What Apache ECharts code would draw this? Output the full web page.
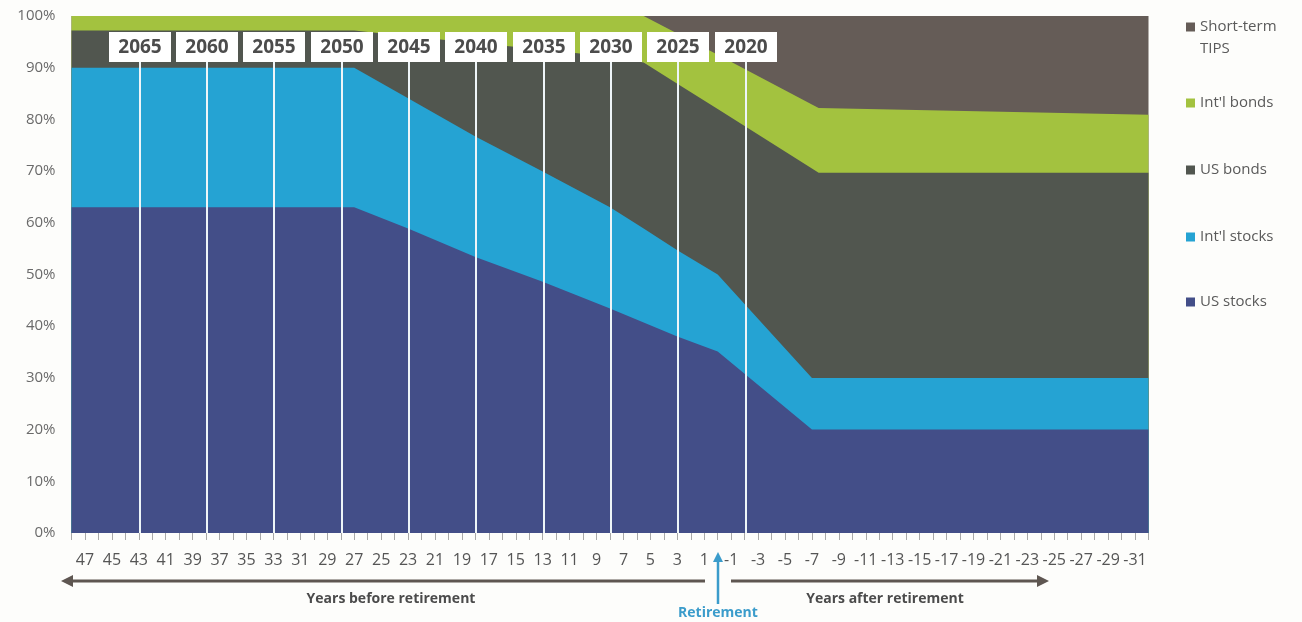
<!DOCTYPE html>
<html>
<head>
<meta charset="utf-8">
<script src="https://cdn.jsdelivr.net/npm/echarts@6/dist/echarts.min.js"></script>
<style>
  html, body { margin: 0; padding: 0; background: #fdfdfb; }
  #chart { width: 1302px; height: 622px; }
</style>
</head>
<body>
<div id="chart"></div>
<script>
// Years before retirement (negative = years after retirement)
const years        = [48,   27,   23,   18,   13,   8,    5.5,  3,    0,    -7,   -7.5, -32];
// Allocation (% of portfolio) by asset class
const usStocks     = [63.0, 63.0, 58.9, 53.4, 48.6, 43.4, 40.7, 38.0, 35.1, 20.0, 20.0, 20.0];
const intlStocks   = [27.0, 27.0, 25.2, 23.3, 21.3, 19.6, 18.2, 16.7, 14.9, 10.0, 10.0, 10.0];
const usBonds      = [7.2,  7.2,  12.0, 18.1, 23.6, 29.1, 32.1, 32.2, 32.0, 40.5, 39.7, 39.7];
const intlBonds    = [2.8,  2.8,  3.9,  5.2,  6.5,  7.9,  9.0,  9.7,  10.5, 12.4, 12.5, 11.2];
const tips         = [0,    0,    0,    0,    0,    0,    0,    3.4,  7.5,  17.1, 17.8, 19.1];

// Target-date fund labels and the years-before-retirement they mark
const fundLabels   = ['2065', '2060', '2055', '2050', '2045', '2040', '2035', '2030', '2025', '2020'];
const fundYears    = [43, 38, 33, 28, 23, 18, 13, 8, 3, -2];

// Y-axis ticks
const yMin = 0, yMax = 100, yStep = 10;

// bottom-to-top order
const seriesDefs = [
  { name: 'US stocks',       data: usStocks,   color: '#434e88' },
  { name: "Int'l stocks",    data: intlStocks, color: '#25a3d3' },
  { name: 'US bonds',        data: usBonds,    color: '#51564f' },
  { name: "Int'l bonds",     data: intlBonds,  color: '#a3c23f' },
  { name: 'Short-term TIPS', data: tips,       color: '#655c57' }
];

const FONT = '"Open Sans", "Noto Sans", sans-serif';

const chart = echarts.init(document.getElementById('chart'), null, { renderer: 'canvas' });

// cumulative tops of each band (layered areas: each fills from 0 to its cumulative top)
const running = years.map(function () { return 0; });
const areaSeries = seriesDefs.map(function (d, k) {
  const tops = d.data.map(function (v, i) { running[i] += v; return Math.min(yMax, running[i]); });
  return {
    name: d.name,
    type: 'line',
    symbol: 'none',
    color: d.color,
    lineStyle: { width: 0 },
    areaStyle: { color: d.color, opacity: 1, origin: 'start' },
    data: years.map(function (y, i) { return [y, tops[i]]; }),
    z: 2,
    silent: true
  };
}).reverse(); // draw the tallest (top band) first so lower bands paint over it

const labelSeries = {
  type: 'custom',
  coordinateSystem: 'cartesian2d',
  clip: false,
  z: 10,
  silent: true,
  data: fundYears.map(function (y) { return [y, 0]; }),
  renderItem: function (params, api) {
    const yr = api.value(0);
    const base = api.coord([yr, yMin]);
    const top = api.coord([yr, yMax]);
    const x = Math.round(base[0]) + 1;
    return {
      type: 'group',
      children: [
        { type: 'line', shape: { x1: x, y1: top[1] + 46, x2: x, y2: base[1] },
          style: { stroke: '#eef5f8', lineWidth: 2 } },
        { type: 'rect', shape: { x: x - 31, y: top[1] + 16, width: 62, height: 30 },
          style: { fill: '#ffffff' } },
        { type: 'text', style: {
            text: fundLabels[params.dataIndex], x: x, y: top[1] + 31.5,
            align: 'center', verticalAlign: 'middle',
            font: '700 19px ' + FONT, fill: '#4c4c4c' } }
      ]
    };
  }
};

function legendFor(name, top, multi) {
  return {
    data: [name],
    orient: 'vertical',
    left: 1186,
    top: top,
    padding: 0,
    icon: 'rect',
    itemWidth: 9,
    itemHeight: 9,
    selectedMode: false,
    textStyle: { fontFamily: FONT, fontSize: 15, color: '#5a5a5a', lineHeight: multi ? 22 : 18 },
    // multi-line item: an empty leading line keeps the first text line level with the square
    formatter: multi ? function (n) { return '\n' + n.replace(' ', '\n'); } : '{name}'
  };
}

const option = {
  backgroundColor: '#fdfdfb',
  animation: false,
  grid: { left: 71.5, right: 153.5, top: 16, bottom: 89 },
  xAxis: {
    type: 'value',
    inverse: true,
    min: -32,
    max: 48,
    interval: 1,
    offset: 5,
    axisLine: { show: false },
    axisTick: { show: true, length: 7, lineStyle: { color: '#a8a8a8', width: 1 } },
    splitLine: { show: false },
    axisLabel: {
      margin: 14,
      fontFamily: FONT,
      fontSize: 16,
      color: '#555555',
      formatter: function (v) { return Math.abs(v) % 2 === 1 ? String(v) : ''; }
    }
  },
  yAxis: {
    type: 'value',
    min: yMin,
    max: yMax,
    interval: yStep,
    axisLine: { show: false },
    axisTick: { show: false },
    splitLine: { show: false },
    axisLabel: {
      margin: 16,
      fontFamily: FONT,
      fontSize: 15,
      color: '#6a6a6a',
      formatter: '{value}%'
    }
  },
  legend: [
    legendFor('Short-term TIPS', -6, true),
    legendFor("Int'l bonds", 94, false),
    legendFor('US bonds', 161, false),
    legendFor("Int'l stocks", 228, false),
    legendFor('US stocks', 293, false)
  ],
  series: areaSeries.concat([labelSeries])
};

chart.setOption(option);

// Bottom annotations, anchored to the retirement point on the x axis
const x0 = Math.round(chart.convertToPixel({ xAxisIndex: 0 }, 0));
const arrowColor = '#5e5651';
const blue = '#3b9ccb';
chart.setOption({
  graphic: [
    { type: 'line', shape: { x1: 70, y1: 581, x2: x0 - 13, y2: 581 }, style: { stroke: arrowColor, lineWidth: 3 } },
    { type: 'polygon', shape: { points: [[61, 581], [73, 575], [73, 587]] }, style: { fill: arrowColor } },
    { type: 'line', shape: { x1: x0 + 13, y1: 581, x2: 1040, y2: 581 }, style: { stroke: arrowColor, lineWidth: 3 } },
    { type: 'polygon', shape: { points: [[1049, 581], [1037, 575], [1037, 587]] }, style: { fill: arrowColor } },
    { type: 'text', x: 391, y: 599, style: { text: 'Years before retirement', align: 'center', verticalAlign: 'middle', font: '700 14px ' + FONT, fill: '#4b4b4b' } },
    { type: 'text', x: 885, y: 599, style: { text: 'Years after retirement', align: 'center', verticalAlign: 'middle', font: '700 14px ' + FONT, fill: '#4b4b4b' } },
    { type: 'line', shape: { x1: x0, y1: 604, x2: x0, y2: 560 }, style: { stroke: blue, lineWidth: 2.5 } },
    { type: 'polygon', shape: { points: [[x0, 552], [x0 - 5, 562], [x0 + 5, 562]] }, style: { fill: blue } },
    { type: 'text', x: x0, y: 613, style: { text: 'Retirement', align: 'center', verticalAlign: 'middle', font: '700 14px ' + FONT, fill: blue } }
  ]
});
</script>
</body>
</html>
